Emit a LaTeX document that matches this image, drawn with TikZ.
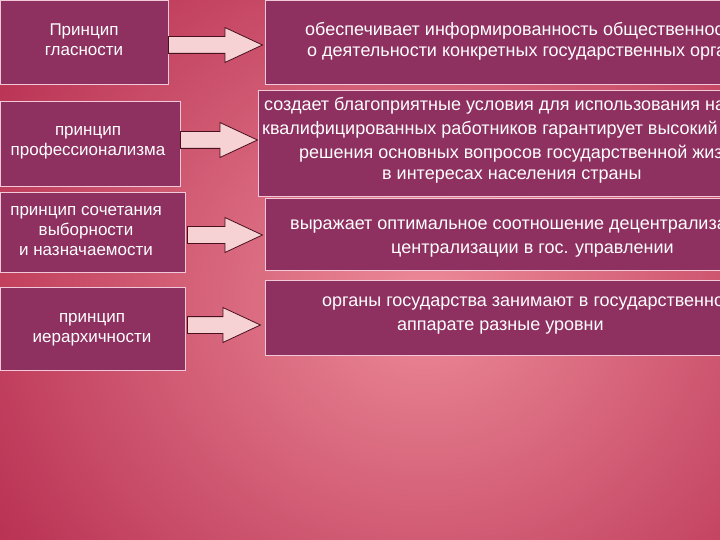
\documentclass[tikz,border=0pt]{standalone}
\usepackage{fontspec}
\setmainfont{Liberation Sans}
\usetikzlibrary{shapes.arrows}
\definecolor{boxfill}{HTML}{8E3060}
\definecolor{boxline}{HTML}{F0C8D8}
\definecolor{arrfill}{HTML}{F6D2D4}
\definecolor{arrline}{HTML}{4A1020}
\definecolor{bgin}{HTML}{EC8A98}
\definecolor{bgout}{HTML}{A8143C}
\tikzset{
  box/.style={draw=boxline, line width=1pt, fill=boxfill},
  arr/.style={single arrow, draw=arrline, fill=arrfill, line width=0.8pt, minimum height=#1, single arrow head extend=9pt, single arrow tip angle=50, inner sep=8pt, minimum width=34pt, anchor=west},
  txt/.style={text=white, font=\fontsize{17}{20}\selectfont, align=center, inner sep=0},
  rtxt/.style={text=white, font=\fontsize{18}{20}\selectfont, inner sep=0, anchor=west}
}
\begin{document}
\begin{tikzpicture}[x=1pt,y=-1pt]
\useasboundingbox (0,0) rectangle (720,540);
\clip (0,0) rectangle (720,540);
\shade[inner color=bgin, outer color=bgout] (-250,-300) rectangle (1100,900);
% boxes
\node[box, minimum width=168pt, minimum height=84pt, anchor=north west] (l1) at (0,0) {};
\node[box, minimum width=480pt, minimum height=84pt, anchor=north west] (r1) at (265,0) {};
\node[box, minimum width=180pt, minimum height=85pt, anchor=north west] (l2) at (0,101) {};
\node[box, minimum width=480pt, minimum height=106pt, anchor=north west] (r2) at (258,90) {};
\node[box, minimum width=185pt, minimum height=80pt, anchor=north west] (l3) at (0,192) {};
\node[box, minimum width=480pt, minimum height=72pt, anchor=north west] (r3) at (265,198) {};
\node[box, minimum width=185pt, minimum height=83pt, anchor=north west] (l4) at (0,287) {};
\node[box, minimum width=480pt, minimum height=75pt, anchor=north west] (r4) at (265,280) {};
% arrows
\node[arr=94pt] (a1) at (168,45) {};
\node[arr=77pt] (a2) at (180,140) {};
\node[arr=75pt] (a3) at (187,235) {};
\node[arr=73pt] (a4) at (187,325) {};
% left texts
\node[txt] (t1) at (84,40) {Принцип\\гласности};
\node[txt] (t2) at (88,143) {принцип\\профессионализма};
\node[txt] (t3) at (86,231) {принцип сочетания\\выборности\\и назначаемости};
\node[txt] (t4) at (92,330) {принцип\\иерархичности};
% right texts
\node[rtxt] (s1) at (305,31) {обеспечивает информированность  общественности};
\node[rtxt] (s2) at (307,54) {о деятельности конкретных государственных органов};
\node[rtxt] (s3) at (264,106) {создает благоприятные условия  для использования на};
\node[rtxt] (s4) at (262,130) {квалифицированных работников гарантирует высокий};
\node[rtxt] (s5) at (299,154) {решения основных  вопросов государственной жизни};
\node[rtxt] (s6) at (382,177) {в интересах населения страны};
\node[rtxt] (s7) at (290,227) {выражает оптимальное соотношение децентрализации};
\node[rtxt] (s8) at (391,251) {централизации в гос. управлении};
\node[rtxt] (s9) at (322,304) {органы государства занимают в государственном};
\node[rtxt] (s10) at (397,328) {аппарате  разные уровни};
\end{tikzpicture}
\end{document}
